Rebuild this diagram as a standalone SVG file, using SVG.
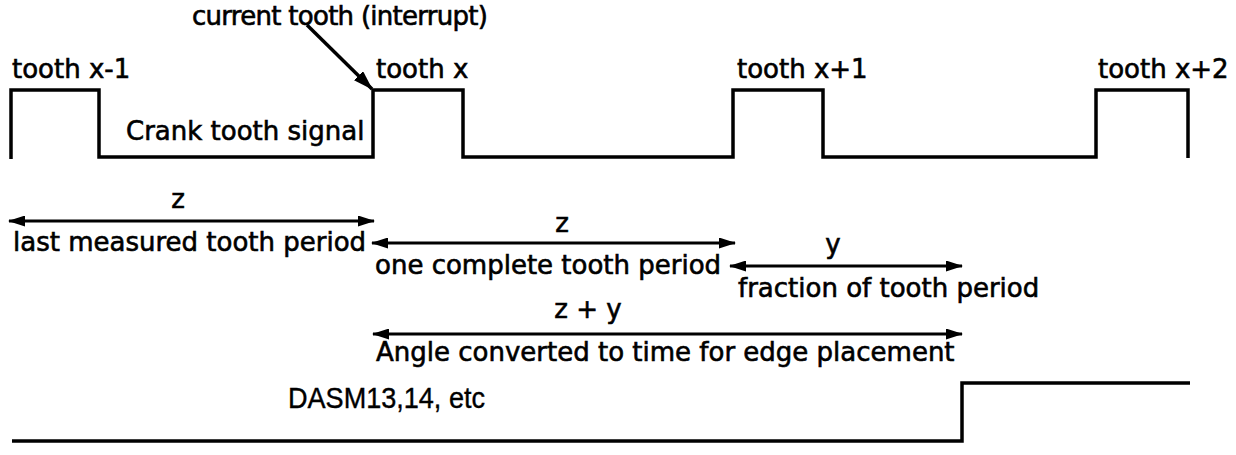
<svg xmlns="http://www.w3.org/2000/svg" width="1236" height="455" viewBox="0 0 1236 455">
<style>
.t{font-family:"DejaVu Sans",sans-serif;font-size:26px;fill:#000;stroke:#000;stroke-width:0.6}
.n{font-family:"Liberation Sans",sans-serif;font-size:30px;fill:#000;stroke:#000;stroke-width:0.4}
.w{fill:none;stroke:#000;stroke-width:3.5;stroke-linejoin:miter;stroke-linecap:butt}
.d{fill:none;stroke:#000;stroke-width:3;marker-start:url(#ah);marker-end:url(#ah)}
.p{fill:none;stroke:#000;stroke-width:3.5;marker-end:url(#ah2)}
</style>
<defs>
<marker id="ah" viewBox="0 0 17 11" refX="16" refY="5.5" markerWidth="17" markerHeight="11" markerUnits="userSpaceOnUse" orient="auto-start-reverse">
<path d="M0,0 L17,5.5 L0,11 Z" fill="#000"/>
</marker>
<marker id="ah2" viewBox="0 0 20 13" refX="19" refY="6.5" markerWidth="20" markerHeight="13" markerUnits="userSpaceOnUse" orient="auto">
<path d="M0,0 L20,6.5 L0,13 Z" fill="#000"/>
</marker>
</defs>
<g id="crank-signal">
<path class="w" d="M11,159 V90 H99 V157 H373 V90 H463 V157 H733 V90 H823 V157 H1096 V90 H1188 V158"/>
<text class="t" x="126" y="140">Crank tooth signal</text>
</g>
<g id="tooth-labels">
<text class="t" x="12" y="78">tooth x-1</text>
<text class="t" x="376" y="78">tooth x</text>
<text class="t" x="737" y="78">tooth x+1</text>
<text class="t" x="1098" y="78">tooth x+2</text>
</g>
<g id="current-tooth">
<text class="t" x="192" y="25" textLength="296">current tooth (interrupt)</text>
</g>
<g id="dasm-signal">
<path class="w" d="M12,441 H962 V383 H1190"/>
<text class="n" x="288" y="408" textLength="197" lengthAdjust="spacingAndGlyphs">DASM13,14, etc</text>
</g>
<g id="connectors">
<line class="p" x1="307" y1="25" x2="372" y2="89"/>
<line class="d" x1="9" y1="221" x2="374" y2="221"/>
<line class="d" x1="372" y1="243" x2="735" y2="243"/>
<line class="d" x1="730" y1="266" x2="962" y2="266"/>
<line class="d" x1="373" y1="334" x2="962" y2="334"/>
</g>
<g id="dimension-labels">
<text class="t" x="178" y="208" text-anchor="middle">z</text>
<text class="t" x="13" y="251">last measured tooth period</text>
<text class="t" x="562" y="232" text-anchor="middle">z</text>
<text class="t" x="375" y="274">one complete tooth period</text>
<text class="t" x="833" y="253" text-anchor="middle">y</text>
<text class="t" x="738" y="297">fraction of tooth period</text>
<text class="t" x="588" y="318" text-anchor="middle">z + y</text>
<text class="t" x="376" y="361">Angle converted to time for edge placement</text>
</g>
</svg>
